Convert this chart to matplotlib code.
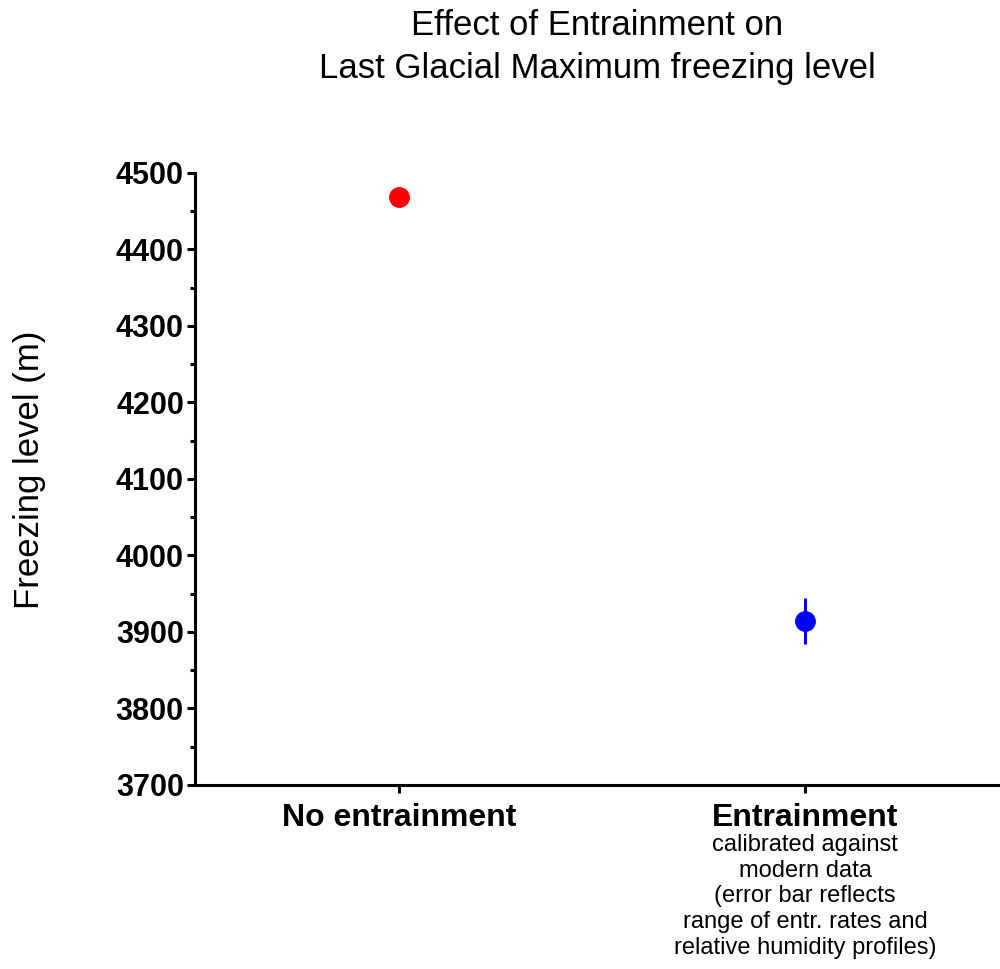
import matplotlib.pyplot as plt
import matplotlib.transforms as mtransforms

plt.rcParams["font.family"] = ["Liberation Sans", "DejaVu Sans"]

# LGM freezing level estimates (m)
conditions = ["No entrainment", "Entrainment"]
freezing_level = [4468, 3914]
level_err = [0, 30]
point_colors = ["#ff0000", "#0000ff"]
detail_note = ("calibrated against\nmodern data\n(error bar reflects\n"
               "range of entr. rates and\nrelative humidity profiles)")

fig = plt.figure(figsize=(10, 9.69), dpi=100)
ax = fig.add_axes([0.195, 0.19, 0.805, 0.6315])

for i, (y, e, c) in enumerate(zip(freezing_level, level_err, point_colors)):
    ax.errorbar(i, y, yerr=e if e else None, fmt="o", color=c, ms=14,
                elinewidth=2.2, capsize=0, clip_on=False, zorder=3)

ax.set_xlim(-0.502, 1.48)
ax.set_ylim(3700, 4500)
ax.set_yticks(range(3700, 4501, 100))
ax.set_yticks(range(3750, 4500, 100), minor=True)
ax.set_xticks(range(len(conditions)))
ax.set_xticklabels(conditions, fontsize=23, fontweight="bold")
for lbl in ax.get_yticklabels():
    lbl.set_fontsize(22)
    lbl.set_fontweight("bold")

ax.tick_params(axis="both", which="major", direction="out", length=6,
               width=2.2, pad=2)
ax.tick_params(axis="x", which="major", pad=7)
ax.tick_params(axis="y", which="minor", direction="out", length=3.5,
               width=2.2)
ax.tick_params(axis="x", which="minor", bottom=False)
for s in ("top", "right"):
    ax.spines[s].set_visible(False)
for s in ("left", "bottom"):
    ax.spines[s].set_linewidth(2.2)

# explanatory note under the second category label
trans = mtransforms.blended_transform_factory(ax.transData, fig.transFigure)
ax.text(1, 1 - 834 / 969, detail_note, transform=trans, ha="center",
        va="top", fontsize=17, linespacing=1.22)

fig.text(0.03, 1 - 470 / 969, "Freezing level (m)", rotation=90,
         ha="center", va="center", fontsize=25)
fig.text(0.597, 1 - 47 / 969,
         "Effect of Entrainment on\nLast Glacial Maximum freezing level",
         ha="center", va="center", fontsize=25, linespacing=1.35)

fig.savefig("out.png", dpi=100)
